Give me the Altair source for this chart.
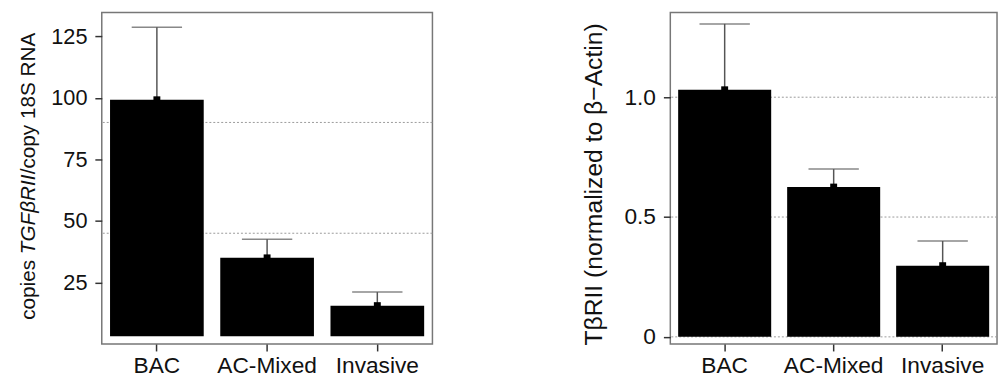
import altair as alt
import pandas as pd

categories = ["BAC", "AC-Mixed", "Invasive"]

left_mean = [99.2, 35.0, 15.6]
left_err = [128.7, 42.6, 21.1]
left_base = 3.2
left_grid = [45, 90]
left_ticks = [25, 50, 75, 100, 125]

right_mean = [1.031, 0.625, 0.297]
right_err = [1.306, 0.700, 0.400]
right_base = 0.0
right_grid = [0, 0.5, 1.0]
right_ticks = [0, 0.5, 1.0]

FONT = "Liberation Sans"
H = 336
TXT = "#111"

left_df = pd.DataFrame({"cat": categories, "mean": left_mean, "err": left_err,
                        "base": [left_base] * 3})
right_df = pd.DataFrame({"cat": categories, "mean": right_mean, "err": right_err,
                         "base": [right_base] * 3})


def panel(df, grid_vals, domain, ticks, width, pin, pout, label_size, label_expr, titles, bound_x):
    xs = alt.Scale(domain=categories, paddingInner=pin, paddingOuter=pout)
    ys = alt.Scale(domain=domain, nice=False, zero=False)
    xaxis = alt.Axis(title=None, labelAngle=0, domain=False, grid=False, tickSize=7,
                     tickWidth=1.5, tickColor="#333", labelFontSize=23, labelFont=FONT,
                     labelColor=TXT, labelPadding=4)
    yaxis_kw = dict(title=None, domain=False, grid=False, tickSize=7, tickWidth=1.5,
                    tickColor="#333", labelFontSize=label_size, labelFont=FONT,
                    labelColor=TXT, labelPadding=8, values=ticks)
    if label_expr:
        yaxis_kw["labelExpr"] = label_expr
    yaxis = alt.Axis(**yaxis_kw)

    grid = alt.Chart(pd.DataFrame({"g": grid_vals})).mark_rule(
        color="#999", strokeDash=[2, 2], strokeWidth=1
    ).encode(y=alt.Y("g:Q", scale=ys, axis=yaxis))

    bars = alt.Chart(df).mark_bar(color="black").encode(
        x=alt.X("cat:N", scale=xs, axis=xaxis, sort=categories),
        y=alt.Y("mean:Q", scale=ys, axis=yaxis),
        y2="base:Q",
    )
    err = alt.Chart(df).mark_rule(color="#555", strokeWidth=1.5).encode(
        x=alt.X("cat:N", scale=xs, sort=categories),
        y=alt.Y("mean:Q", scale=ys),
        y2="err:Q",
    )
    cap = alt.Chart(df).mark_tick(color="#555", thickness=1.5, size=51).encode(
        x=alt.X("cat:N", scale=xs, sort=categories),
        y=alt.Y("err:Q", scale=ys),
    )
    dot = alt.Chart(df).mark_square(color="black", size=49, opacity=1).encode(
        x=alt.X("cat:N", scale=xs, sort=categories),
        y=alt.Y("mean:Q", scale=ys),
    )
    layers = [grid, bars, err, cap, dot]
    one = pd.DataFrame({"k": [0]})
    for (txt, fs, style, tx, ty, align) in titles:
        layers.append(
            alt.Chart(one).mark_text(text=txt, font=FONT, fontSize=fs, fontStyle=style,
                                     angle=270, align=align, baseline="alphabetic",
                                     color=TXT).encode(x=alt.value(tx), y=alt.value(ty))
        )
    layers.append(
        alt.Chart(one).mark_rule(strokeOpacity=0, strokeWidth=1).encode(
            x=alt.value(bound_x), y=alt.value(0), y2=alt.value(H))
    )
    return alt.layer(*layers).properties(width=width, height=H)


left_titles = [
    ("copies ", 21, "normal", -68, 311.5, "left"),
    ("TGF\u03b2RII", 21, "italic", -68, 245.0, "left"),
    ("/copy 18S RNA", 21, "normal", -68, 164.1, "left"),
]
right_titles = [
    ("T\u03b2RII (normalized to \u03b2\u2212Actin)", 25, "normal", -69, 174.3, "center"),
]

left = panel(left_df, left_grid, [0, 134.7], left_ticks, 335, 0.15, 0.075, 22, None,
             left_titles, -94)
right = panel(right_df, right_grid, [-0.03, 1.354], right_ticks, 331, 0.1465, 0.072, 23,
              "datum.value == 0 ? '0' : format(datum.value, '.1f')", right_titles, -100)

chart = alt.hconcat(left, right, spacing=138).properties(
    padding={"left": 0, "top": 1, "right": 0, "bottom": 0},
    background="white",
).configure_view(stroke="#777", strokeWidth=1.5)

chart.save("out.html", embed_options={"renderer": "svg", "actions": False})
